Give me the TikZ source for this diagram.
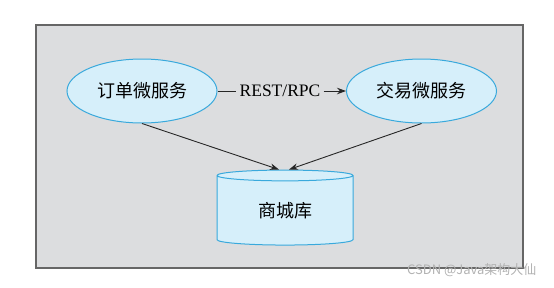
\documentclass[tikz,border=0pt]{standalone}
\usepackage{fontspec}
\setmainfont{Liberation Serif}
\newfontfamily\cjk{Noto Sans CJK SC}
\usetikzlibrary{arrows.meta,shapes.geometric}
\definecolor{panel}{HTML}{DCDDDF}
\definecolor{svcfill}{HTML}{D6EFFA}
\definecolor{svcline}{HTML}{39A9DC}
\tikzset{
  svc/.style={ellipse, draw=svcline, fill=svcfill, line width=1pt,
    minimum width=150pt, minimum height=64pt, inner sep=0pt, font=\cjk\fontsize{18}{18}\selectfont},
  store/.style={cylinder, shape border rotate=90, aspect=0.2, draw=svcline, fill=svcfill,
    line width=1pt, minimum width=136pt, minimum height=75pt, inner sep=0pt,
    font=\cjk\fontsize{18}{18}\selectfont},
  link/.style={-{Stealth[length=9pt,width=6.5pt]}, line width=0.9pt, black!85}
}
\begin{document}
\begin{tikzpicture}[x=1pt,y=-1pt]
	\useasboundingbox (0,0) rectangle (554,287);
	\draw[fill=panel, draw=black!60, line width=1.2pt](36,25) rectangle (523,268);
	\node[svc] (order) at (142,91) {订单微服务};
	\node[svc] (trade) at (421.5,91) {交易微服务};
	\node[store] (db) at (285,210.5) {商城库};
	\node[inner sep=3pt, font=\fontsize{17.5}{18}\selectfont] (rpc) at (280,91) {REST/RPC};
	\draw[line width=0.9pt, black!85](order) -- (rpc);
	\draw[link](rpc) -- (trade);
	\draw[link](order.south) -- ([xshift=-6pt]db.north);
	\draw[link](trade.south) -- ([xshift=4pt]db.north);
	\node[text=black!30, font=\cjk\fontsize{13}{13}\selectfont, anchor=east] (mark) at (540,270) {CSDN @Java架构大仙};
\end{tikzpicture}
\end{document}
